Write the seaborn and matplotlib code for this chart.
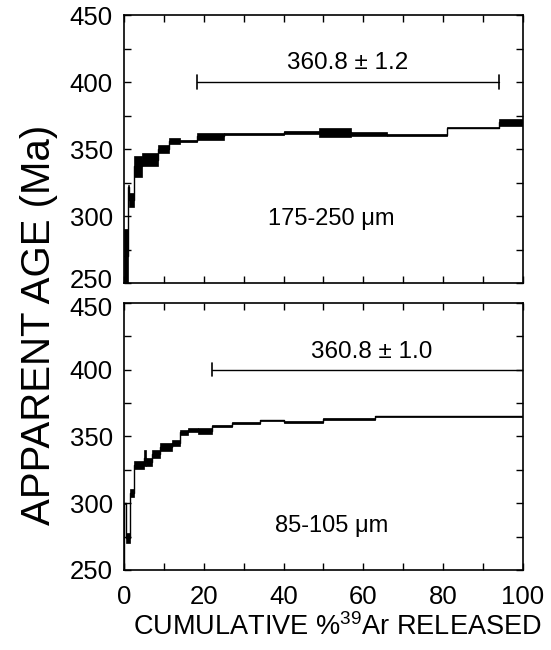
import numpy as np
import pandas as pd
import matplotlib
matplotlib.use("Agg")
import matplotlib.pyplot as plt
import matplotlib.transforms as mtransforms
import seaborn as sns
from matplotlib.ticker import MultipleLocator

# ---- data: top panel (175-250 um) ----
top_start = [0.0, 1.0, 1.3, 2.5, 4.5, 8.5, 11.3, 14.0, 18.3, 25.0, 40.0, 49.0, 57.0, 66.0, 81.0, 94.0]
top_end   = [1.0, 1.3, 2.5, 4.5, 8.5, 11.3, 14.0, 18.3, 25.0, 40.0, 49.0, 57.0, 66.0, 81.0, 94.0, 100.0]
top_age   = [270, 322, 312, 337, 342, 350, 356, 356, 359.5, 361, 362.5, 362.5, 361, 360.5, 366, 370]
top_err   = [20, 1, 5, 8, 5, 3, 2.5, 1, 2.5, 0.6, 1, 3.5, 1.5, 0.6, 0.6, 2.5]

# ---- data: bottom panel (85-105 um) ----
bot_start = [0.0, 0.4, 1.6, 2.6, 5.0, 5.6, 7.0, 9.0, 12.0, 14.0, 16.0, 18.5, 22.0, 27.0, 34.0, 40.0, 50.0, 63.0]
bot_end   = [0.4, 1.6, 2.6, 5.0, 5.6, 7.0, 9.0, 12.0, 14.0, 16.0, 18.5, 22.0, 27.0, 34.0, 40.0, 50.0, 63.0, 100.0]
bot_age   = [300, 274, 308, 329, 334, 331, 337, 342, 345, 353, 355, 354, 358, 360, 362, 361, 363, 365]
bot_err   = [0.5, 4, 3, 3, 6, 3, 3, 3, 2, 2, 1.5, 2, 0.8, 0.6, 0.6, 0.6, 0.6, 0.5]

# plateau annotations
top_plateau = dict(x0=18.3, x1=94.0, y=400, label="360.8 \u00b1 1.2", lx=56, ly=414, caps=(True, True))
bot_plateau = dict(x0=22.0, x1=100.0, y=400, label="360.8 \u00b1 1.0", lx=62, ly=413, caps=(True, False))
top_sample = dict(label="175-250 \u03bcm", x=52, y=298)
bot_sample = dict(label="85-105 \u03bcm", x=52, y=283)

x_ticks_major = [0, 20, 40, 60, 80, 100]
y_ticks_major = [250, 300, 350, 400, 450]

sns.set_theme(style="ticks")
plt.rcParams['font.family'] = ['Liberation Sans', 'DejaVu Sans']
plt.rcParams['mathtext.fontset'] = 'custom'
plt.rcParams['mathtext.rm'] = 'Liberation Sans'
plt.rcParams['text.color'] = 'black'
plt.rcParams['axes.labelcolor'] = 'black'
plt.rcParams['xtick.color'] = 'black'
plt.rcParams['ytick.color'] = 'black'

fig = plt.figure(figsize=(5.51, 6.5), dpi=100)
ax_top = fig.add_axes([0.225, 0.5646, 0.724, 0.4123])
ax_bot = fig.add_axes([0.225, 0.1231, 0.724, 0.4108])


def draw_panel(ax, start, end, age, err, plateau, sample, show_xlabels):
    start = np.array(start); end = np.array(end)
    age = np.array(age); err = np.array(err)
    # boxes (2-sigma)
    ax.bar(start, 2 * err, width=end - start, bottom=age - err, align='edge',
           color='black', edgecolor='black', linewidth=0.5, zorder=3)
    # connecting step outline
    df = pd.DataFrame({"x": list(start) + [end[-1]], "y": list(age) + [age[-1]]})
    sns.lineplot(data=df, x="x", y="y", ax=ax, drawstyle='steps-post', color='black',
                 linewidth=1.0, estimator=None, sort=False, zorder=4)
    # vertical from axis bottom at start
    ax.plot([start[0], start[0]], [250, age[0] - err[0]], color='black', lw=1.0)
    # plateau bar
    ax.plot([plateau['x0'], plateau['x1']], [plateau['y'], plateau['y']], color='black', lw=1.0)
    if plateau['caps'][0]:
        ax.plot([plateau['x0']] * 2, [plateau['y'] - 5, plateau['y'] + 5], color='black', lw=1.2)
    if plateau['caps'][1]:
        ax.plot([plateau['x1']] * 2, [plateau['y'] - 5, plateau['y'] + 5], color='black', lw=1.2)
    ax.text(plateau['lx'], plateau['ly'], plateau['label'], ha='center', va='center',
            fontsize=17.5, color='black')
    ax.text(sample['x'], sample['y'], sample['label'], ha='center', va='center',
            fontsize=17, color='black')

    ax.set_xlim(0, 100)
    ax.set_ylim(250, 450)
    ax.set_xticks(x_ticks_major)
    ax.xaxis.set_minor_locator(MultipleLocator(10))
    ax.set_yticks(y_ticks_major)
    ax.yaxis.set_minor_locator(MultipleLocator(25))
    ax.tick_params(which='both', direction='in', top=True, right=True, length=5, width=1.0,
                   color='black', labelcolor='black')
    ax.tick_params(axis='y', which='major', labelsize=18.5, pad=8)
    ax.tick_params(axis='x', which='major', labelsize=18.5, pad=11)
    if not show_xlabels:
        ax.tick_params(axis='x', labelbottom=False)
    ax.set_xlabel("")
    ax.set_ylabel("")
    for sp in ax.spines.values():
        sp.set_visible(True)
        sp.set_color('black')
        sp.set_linewidth(1.2)


draw_panel(ax_top, top_start, top_end, top_age, top_err, top_plateau, top_sample, False)
draw_panel(ax_bot, bot_start, bot_end, bot_age, bot_err, bot_plateau, bot_sample, True)

# nudge the two crowded y tick labels apart (top panel 250, bottom panel 450)
up = mtransforms.ScaledTranslation(0, 5 / 100, fig.dpi_scale_trans)
down = mtransforms.ScaledTranslation(0, -4 / 100, fig.dpi_scale_trans)
t_top = ax_top.yaxis.get_major_ticks()[0]
t_top.label1.set_transform(t_top.label1.get_transform() + up)
t_bot = ax_bot.yaxis.get_major_ticks()[-1]
t_bot.label1.set_transform(t_bot.label1.get_transform() + down)

ax_bot.set_xlabel(r"CUMULATIVE %$^{\mathregular{39}}$Ar RELEASED", fontsize=19.5, color='black')
ax_bot.xaxis.set_label_coords(0.535, -0.16)
fig.text(0.07, 0.5, "APPARENT AGE (Ma)", rotation=90, ha='center', va='center',
         fontsize=29, color='black')

fig.savefig("out.png", dpi=100)
